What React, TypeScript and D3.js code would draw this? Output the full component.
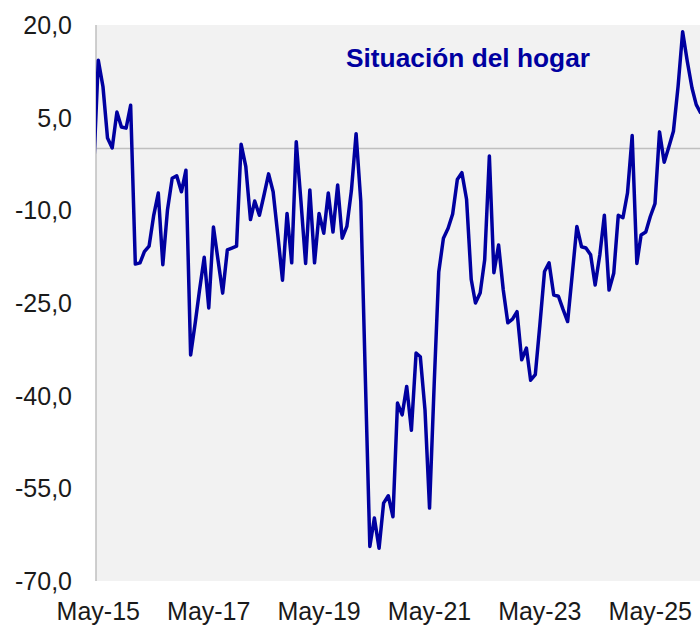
// Situación del hogar - monthly balance line chart
import React, { useEffect, useRef } from 'react';
import * as d3 from 'd3';

// first month of the series (Apr-15), one value per month after it
const startMonth = new Date(2015, 3, 1);
const values: number[] = [
  -2.8,
  14.3, 10.0, 1.7, 0.1, 5.9, 3.5, 3.3, 7.0, -18.7, -18.5, -16.7, -15.8,
  -10.9, -7.2, -18.8, -9.9, -4.8, -4.4, -7.0, -3.5, -33.4, -28.1, -22.9, -17.6,
  -25.8, -12.7, -18.0, -23.4, -16.4, -16.1, -15.8, 0.7, -2.9, -11.5, -8.5, -10.8,
  -7.6, -4.1, -7.0, -14.0, -21.3, -10.5, -18.5, 1.1, -8.5, -18.6, -6.7, -18.5,
  -10.5, -13.7, -7.2, -13.5, -5.9, -14.5, -12.6, -6.8, 2.4, -8.5, -36.0, -64.4,
  -59.8, -64.7, -57.4, -56.2, -59.6, -41.2, -43.1, -38.5, -45.6, -33.1, -33.7, -42.3,
  -58.2, -38.0, -20.0, -14.5, -12.9, -10.6, -5.0, -3.9, -8.2, -21.2, -25.0, -23.4,
  -18.0, -1.2, -20.1, -15.6, -22.9, -28.2, -27.6, -26.4, -34.2, -32.3, -37.5, -36.6,
  -28.6, -19.9, -18.5, -23.7, -23.9, -26.0, -28.0, -20.5, -12.6, -15.9, -16.1, -17.2,
  -22.1, -17.2, -10.8, -22.9, -20.2, -10.8, -11.2, -7.2, 2.1, -18.6, -14.0, -13.5,
  -11.0, -8.9, 2.7, -2.2, 0.3, 2.8, 10.1, 18.9, 14.1, 9.8, 7.1, 5.7
];

const yTicks = [20, 5, -10, -25, -40, -55, -70];
const xTickYears = [2015, 2017, 2019, 2021, 2023, 2025];
const title = 'Situación del hogar';

const App: React.FC = () => {
  const svgRef = useRef<SVGSVGElement>(null);

  useEffect(() => {
    if (!svgRef.current) return;
    const svg = d3.select(svgRef.current);
    svg.selectAll('*').remove();

    const width = 700;
    const left = 96;
    const top = 25;
    const bottom = 581;
    const blue = '#0000A0';
    const font = '"Liberation Sans", Arial, sans-serif';

    const data = values.map((v, i) => ({ date: d3.timeMonth.offset(startMonth, i), value: v }));

    const x = d3.scaleTime()
      .domain([new Date(2015, 4, 1), new Date(2025, 4, 1)])
      .range([98.3, 650.3]);
    const y = d3.scaleLinear().domain([-70, 20]).range([bottom, top]);

    const es = d3.formatLocale({
      decimal: ',', thousands: '.', grouping: [3], currency: ['', '€'], minus: '-'
    });
    const fmt = es.format('.1f');

    svg.append('clipPath').attr('id', 'plot-clip')
      .append('rect')
      .attr('x', left).attr('y', top)
      .attr('width', width - left).attr('height', bottom - top);

    // plot background
    svg.append('rect')
      .attr('x', left).attr('y', top)
      .attr('width', width - left).attr('height', bottom - top)
      .attr('fill', '#F2F2F2');

    // zero line
    svg.append('line')
      .attr('x1', left).attr('x2', width)
      .attr('y1', y(0)).attr('y2', y(0))
      .attr('stroke', '#BFBFBF').attr('stroke-width', 1.5);

    // left axis line
    svg.append('line')
      .attr('x1', left).attr('x2', left)
      .attr('y1', top).attr('y2', bottom)
      .attr('stroke', '#BFBFBF').attr('stroke-width', 1.5);

    // y tick labels
    svg.append('g').selectAll('text')
      .data(yTicks)
      .enter()
      .append('text')
      .attr('x', 72)
      .attr('y', d => y(d) + 9)
      .attr('text-anchor', 'end')
      .attr('font-family', font)
      .attr('font-size', '25px')
      .attr('fill', '#1a1a1a')
      .text(d => fmt(d));

    // x tick labels
    const fmtMonth = d3.timeFormat('%b-%y');
    svg.append('g').selectAll('text')
      .data(xTickYears.map(yr => new Date(yr, 4, 1)))
      .enter()
      .append('text')
      .attr('x', d => x(d))
      .attr('y', 620)
      .attr('text-anchor', 'middle')
      .attr('font-family', font)
      .attr('font-size', '25px')
      .attr('fill', '#1a1a1a')
      .text(d => fmtMonth(d));

    // series line
    const line = d3.line<{ date: Date; value: number }>()
      .x(d => x(d.date))
      .y(d => y(d.value));

    svg.append('path')
      .datum(data)
      .attr('clip-path', 'url(#plot-clip)')
      .attr('d', line)
      .attr('fill', 'none')
      .attr('stroke', blue)
      .attr('stroke-width', 3.5)
      .attr('stroke-linejoin', 'round');

    // title
    svg.append('text')
      .attr('x', 468)
      .attr('y', 67)
      .attr('text-anchor', 'middle')
      .attr('font-family', font)
      .attr('font-weight', 'bold')
      .attr('font-size', '26.3px')
      .attr('fill', blue)
      .text(title);
  }, []);

  return (
    <div style={{ position: 'absolute', left: 0, top: 0 }}>
      <svg ref={svgRef} width={700} height={627} style={{ display: 'block', background: '#fff' }} />
    </div>
  );
};

export default App;
